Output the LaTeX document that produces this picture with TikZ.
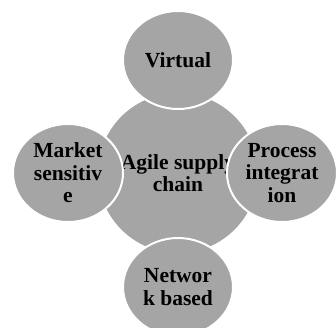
\documentclass[tikz,border=0pt]{standalone}
\usepackage{fontspec}
\setmainfont{Liberation Serif}
\usepackage{tikz}
\usetikzlibrary{shapes.geometric}
\definecolor{petalgray}{HTML}{A5A5A5}

\begin{document}
\begin{tikzpicture}
	[
		x=1pt, y=-1pt,
		every node/.style = {fill=petalgray, align=center, inner sep=0pt, font=\bfseries\fontsize{21.5}{22.5}\selectfont},
		hub/.style = {shape=circle, minimum size=160pt},
		petal/.style = {shape=ellipse, draw=white, line width=2pt, minimum width=110pt, minimum height=98pt},
	]
  \useasboundingbox (0,0) rectangle (336,327);

  \node[hub] (agile) at (178,173) {Agile supply\\chain};

  \node[petal] (virtual) at (178,60) {Virtual};
  \node[petal] (market) at (68,173) {Market\\sensitiv\\e};
  \node[petal] (process) at (282,173) {Process\\integrat\\ion};
  \node[petal] (network) at (178,287) {Networ\\k based};

\end{tikzpicture}
\end{document}
